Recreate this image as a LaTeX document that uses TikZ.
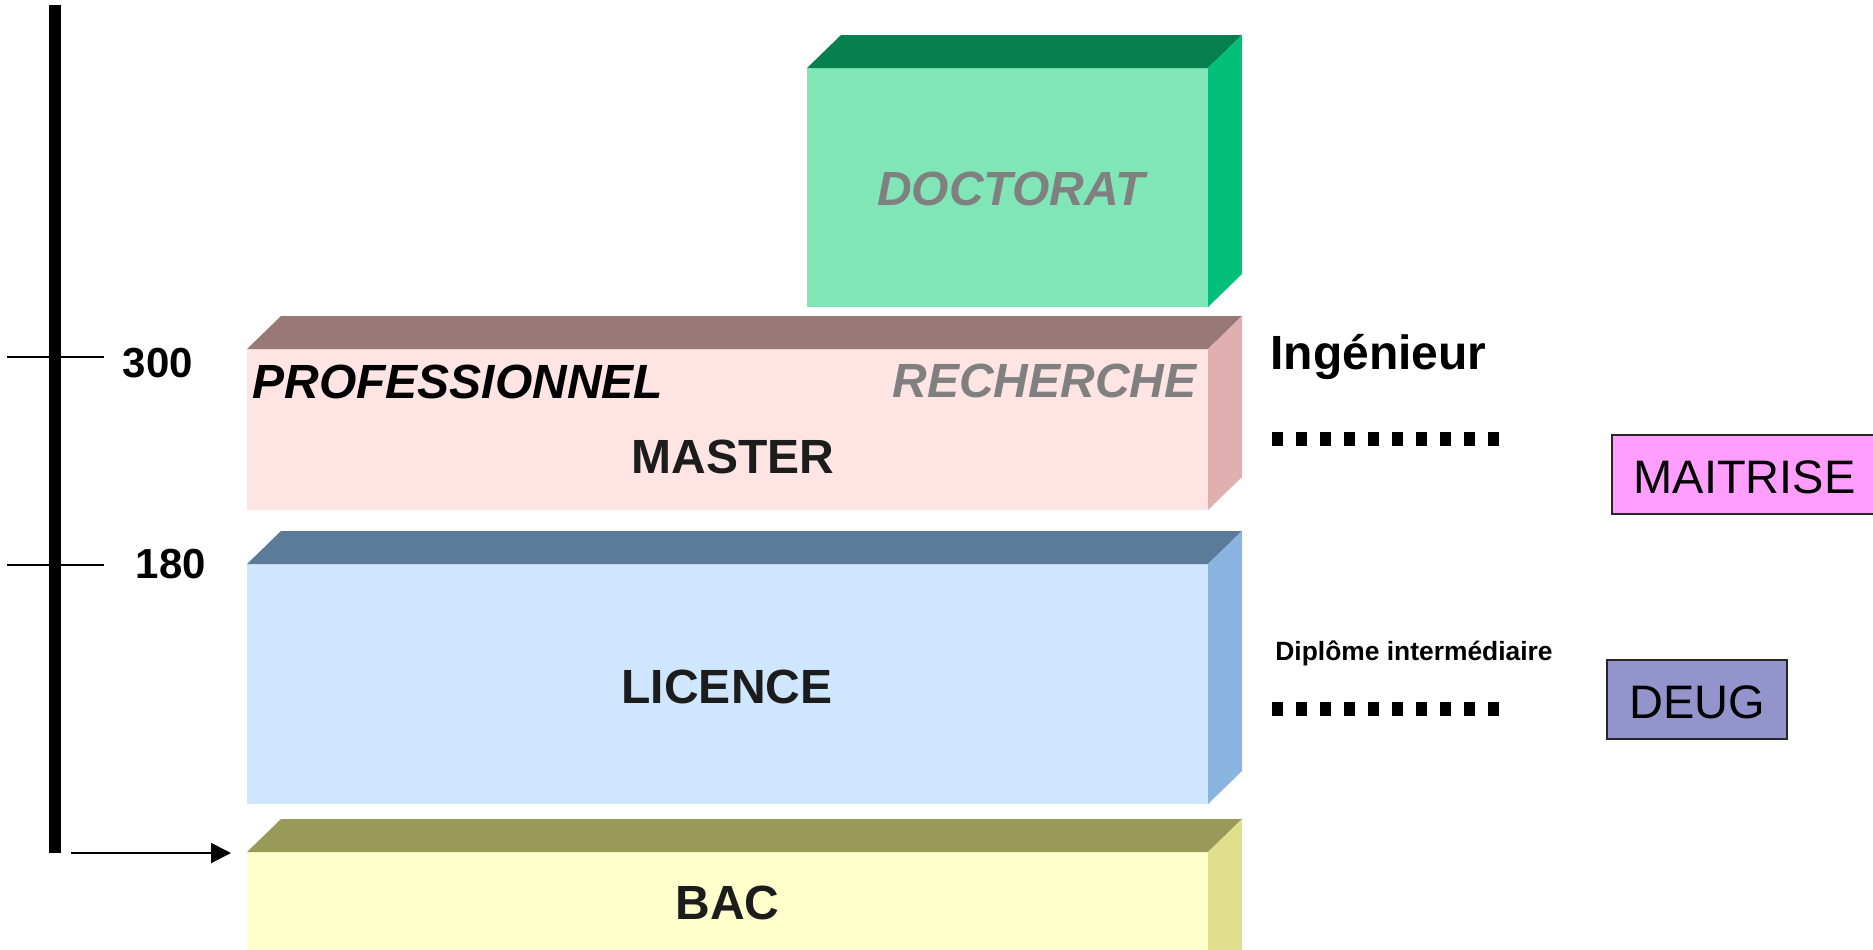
\documentclass[tikz,border=0pt]{standalone}
\usepackage{fontspec}
\setmainfont{Liberation Sans}
\usetikzlibrary{arrows.meta}
\definecolor{docF}{HTML}{80E6B8}
\definecolor{docT}{HTML}{078050}
\definecolor{docS}{HTML}{02C07A}
\definecolor{masF}{HTML}{FFE4E4}
\definecolor{masT}{HTML}{997878}
\definecolor{masS}{HTML}{E0B0B0}
\definecolor{licF}{HTML}{CFE6FF}
\definecolor{licT}{HTML}{5C7A99}
\definecolor{licS}{HTML}{8AB4E0}
\definecolor{bacF}{HTML}{FFFFCC}
\definecolor{bacT}{HTML}{99995A}
\definecolor{bacS}{HTML}{E0E08C}
\definecolor{maiF}{HTML}{FF9EFF}
\definecolor{deuF}{HTML}{9494CC}
\definecolor{txtdark}{HTML}{1C1C1C}
\definecolor{txtgray}{HTML}{808080}
% 3D block: x1,y1,x2,y2,front,top,side
\newcommand\blockbox[7]{%
  \fill[#5] (#1,#2) rectangle (#3,#4);
  \fill[#6] (#1,#2) -- (#1+34,#2-33) -- (#3+34,#2-33) -- (#3,#2) -- cycle;
  \fill[#7] (#3,#2) -- (#3+34,#2-33) -- (#3+34,#4-33) -- (#3,#4) -- cycle;
}
\tikzset{
  big/.style={inner sep=0pt, font=\fontsize{24}{28}\selectfont\bfseries, text=txtdark},
  bigit/.style={inner sep=0pt, font=\fontsize{24}{28}\selectfont\bfseries\itshape},
  plain/.style={inner sep=0pt, font=\fontsize{23.5}{28}\selectfont},
  scalelab/.style={inner sep=0pt, font=\fontsize{21}{25}\selectfont\bfseries},
  tickline/.style={line width=1pt},
  dotsq/.style={fill=black},
  tagbox/.style={draw=black!85, line width=1pt},
}
\begin{document}
\begin{tikzpicture}[x=0.5pt,y=-0.5pt]
\useasboundingbox (0,0) rectangle (1873,949);
\clip (0,0) rectangle (1873,949);
% blocks
\blockbox{807}{68}{1208}{307}{docF}{docT}{docS}
\blockbox{247}{349}{1208}{510}{masF}{masT}{masS}
\blockbox{247}{564}{1208}{804}{licF}{licT}{licS}
\blockbox{247}{852}{1208}{990}{bacF}{bacT}{bacS}
% scale bar
\fill[black] (49,5) rectangle (61,853);
\draw[tickline] (7,357) -- (104,357);
\draw[tickline] (7,565) -- (104,565);
\node[scalelab, anchor=base] (s300) at (158,377) {300};
\node[scalelab, anchor=base] (s180) at (171,578) {180};
% arrow to BAC
\coordinate (astart) at (71,853);
\coordinate (bacleft) at (231,853);
\draw[line width=1pt, -{Triangle[length=10pt,width=10pt]}] (astart) -- (bacleft);
% block labels
\node[bigit, text=txtgray, anchor=base] (doct) at (1011,205) {DOCTORAT};
\node[bigit, text=black, anchor=base west] (prof) at (252,398) {PROFESSIONNEL};
\node[bigit, text=txtgray, anchor=base east] (rech) at (1197,397) {RECHERCHE};
\node[big, anchor=base] (master) at (733,473) {MASTER};
\node[big, anchor=base] (licence) at (727,703) {LICENCE};
\node[big, anchor=base] (bac) at (727.5,919) {BAC};
% right side
\node[big, text=black, anchor=base west] (ing) at (1270,369) {Ingénieur};
\node[inner sep=0pt, font=\fontsize{13.2}{16}\selectfont\bfseries, anchor=base west] (dipl) at (1275,660) {Diplôme intermédiaire};
\foreach \k in {0,...,9}{
  \fill[dotsq] (1272+24*\k,432) rectangle (1283+24*\k,446);
  \fill[dotsq] (1272+24*\k,702) rectangle (1283+24*\k,716);
}
\draw[tagbox, fill=maiF] (1612,435) rectangle (1890,514);
\node[plain, anchor=base] (maitrise) at (1744.5,493) {MAITRISE};
\draw[tagbox, fill=deuF] (1607,660) rectangle (1787,739);
\node[plain, anchor=base] (deug) at (1697,718) {DEUG};
\end{tikzpicture}
\end{document}
